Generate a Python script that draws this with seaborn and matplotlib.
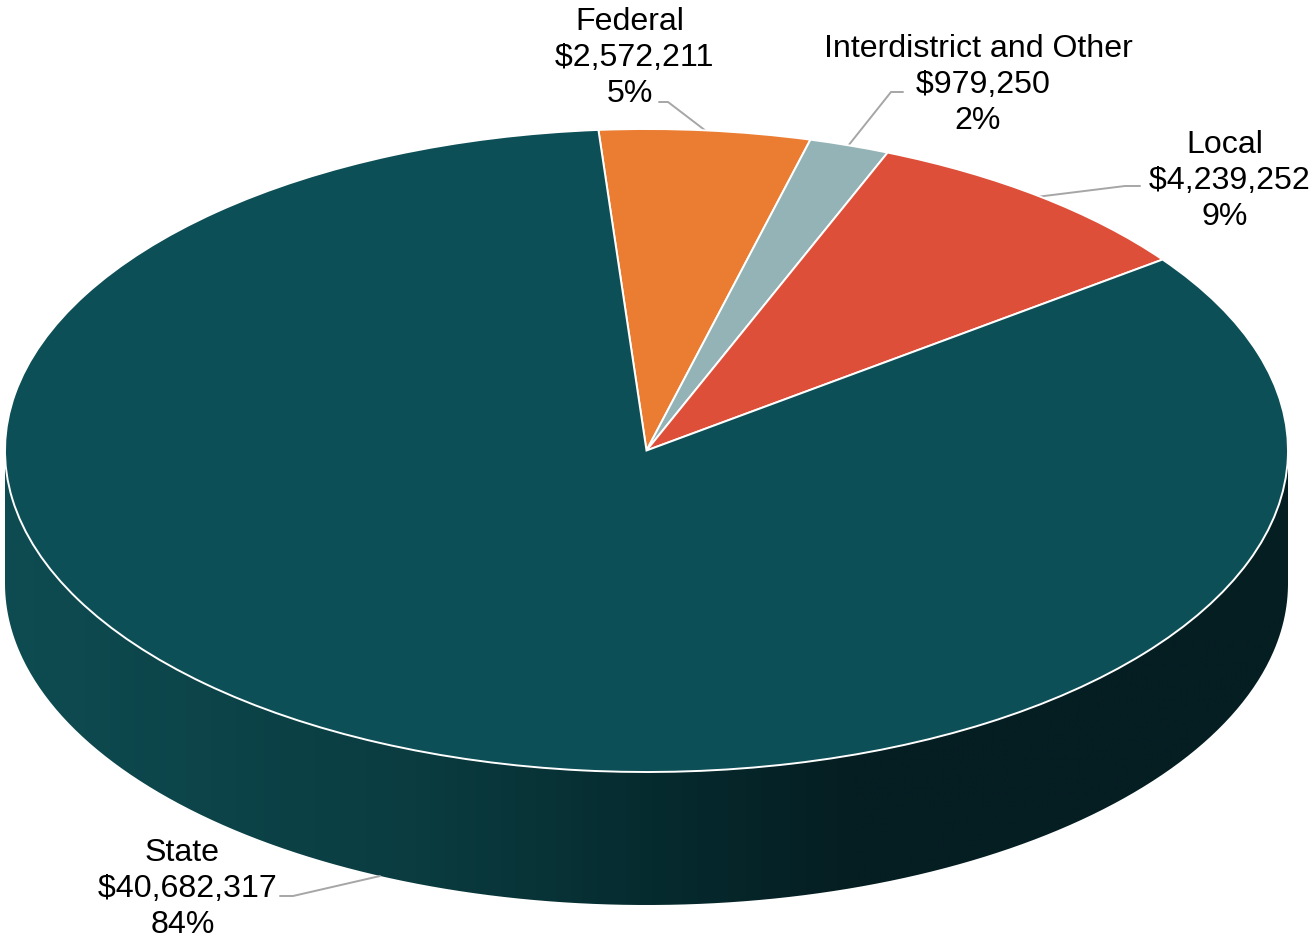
import numpy as np
import matplotlib
matplotlib.use("Agg")
import matplotlib.pyplot as plt
from matplotlib.colors import LinearSegmentedColormap
from matplotlib.patches import PathPatch
from matplotlib.path import Path
import seaborn as sns

# Revenue by source, clockwise from the top of the pie
sources = ["Federal", "Interdistrict and Other", "Local", "State"]
amounts = [2572211, 979250, 4239252, 40682317]
percent_labels = ["5%", "2%", "9%", "84%"]
slice_colors = ["#EB7D32", "#93B3B7", "#DE4F39", "#0D4F57"]

# Shading of the rim from left to right (position along the width, colour)
rim_stops = [0.0, 0.32, 0.505, 0.66, 1.0]
rim_colors = ["#0E4C52", "#0A3C40", "#062B2F", "#051E22", "#051E22"]

W, H = 1309, 937
CX, CY, RX, RY = 646.5, 451.5, 641.5, 321.5   # ellipse of the pie top, in pixels
DEPTH = 133 / RY


def px(x, y):
    """Pixel position to pie units (unit circle squashed by the axes)."""
    return (x - CX) / RX, (CY - y) / RY


sns.set_theme(style="white")
plt.rcParams["font.family"] = ["Liberation Sans", "DejaVu Sans"]

fig = plt.figure(figsize=(W / 100, H / 100), dpi=100, facecolor="white")
ax = fig.add_axes([0, 0, 1, 1])

wedges, _ = ax.pie(
    amounts,
    colors=sns.color_palette(slice_colors),
    startangle=94.3,
    counterclock=False,
    radius=1.0,
    wedgeprops={"edgecolor": "white", "linewidth": 1.4, "zorder": 3},
)

# Rim of the disc: a horizontal gradient clipped to the extruded outline
t = np.linspace(np.pi, 2 * np.pi, 400)
outline_x = np.r_[np.cos(t), np.cos(t)[::-1]]
outline_y = np.r_[np.sin(t) - DEPTH, np.sin(t)[::-1]]
rim_cmap = LinearSegmentedColormap.from_list("rim", list(zip(rim_stops, rim_colors)))
rim = ax.imshow(
    np.linspace(0, 1, 512)[None, :],
    cmap=rim_cmap,
    extent=(-1, 1, -1 - DEPTH, 0.2),
    aspect="auto",
    zorder=1,
)
clip = PathPatch(Path(np.c_[outline_x, outline_y]), transform=ax.transData,
                 facecolor="none", edgecolor="none")
ax.add_patch(clip)
rim.set_clip_path(clip)

# Callout text and leader lines, one per slice
label_pos = [(630, 58), (978, 85), (1225, 181), (182.5, 889)]
leaders = [
    [(659, 103), (668, 103), (706, 132)],
    [(848, 147), (891, 93), (903, 93)],
    [(1036, 198), (1125, 187), (1140, 187)],
    [(380, 877), (293, 897), (280, 897)],
]
for name, amount, pct, pos, leader in zip(sources, amounts, percent_labels, label_pos, leaders):
    lx, ly = zip(*[px(*p) for p in leader])
    ax.plot(lx, ly, color="#A6A6A6", lw=1.4, zorder=2, solid_joinstyle="miter")
    ax.text(*px(*pos), f"{name}\n ${amount:,}\n{pct}", ha="center", va="center",
            fontsize=23.1, color="black", linespacing=1.27, zorder=5)

ax.set_aspect("auto")
ax.set_xlim(px(0, 0)[0], px(W, 0)[0])
ax.set_ylim(px(0, H)[1], px(0, 0)[1])
ax.axis("off")

fig.savefig("out.png", dpi=100, facecolor="white")
